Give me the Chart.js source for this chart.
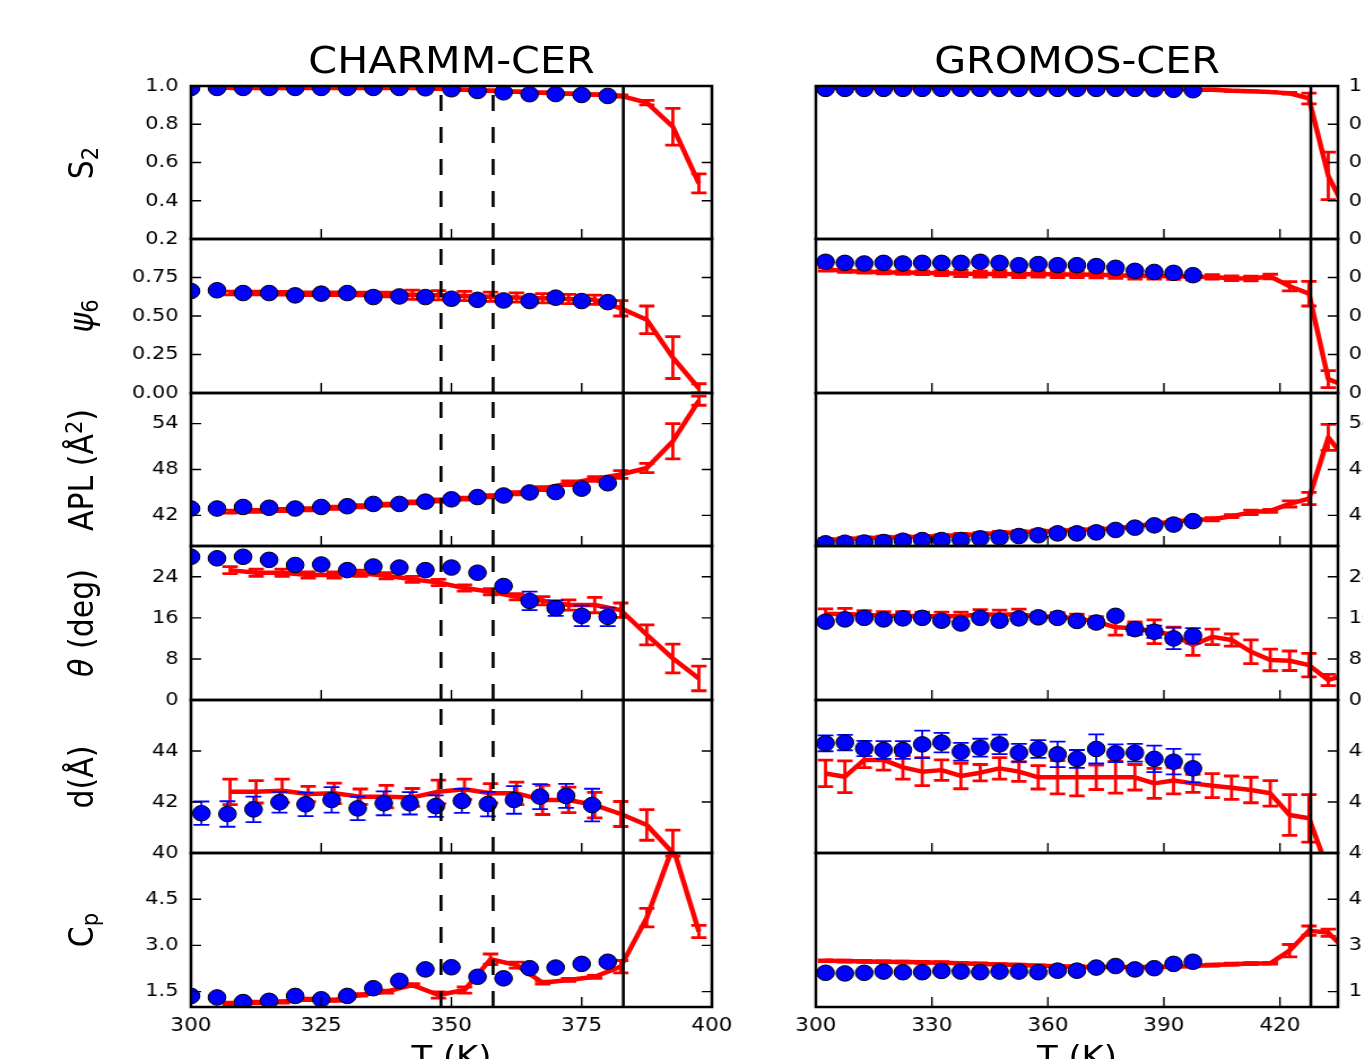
<!DOCTYPE html>
<html><head><meta charset="utf-8">
<script src="https://cdn.jsdelivr.net/npm/chart.js@4.4.1/dist/chart.umd.min.js"></script>
<style>
html,body{margin:0;padding:0;background:#fff;overflow:hidden;width:1363px;height:1059px;}
#fig{position:absolute;left:0;top:0;width:1207px;height:1059px;transform:scaleX(1.13);transform-origin:0 0;font-family:'DejaVu Sans';}
#fig canvas{position:absolute;}
.t{position:absolute;white-space:nowrap;line-height:1;color:#000;}
.sub{font-size:0.7em;position:relative;top:0.25em;}
.sup{font-size:0.7em;position:relative;top:-0.45em;}
</style></head>
<body><div id="fig"></div>
<script>
// ================= DATA =================
const charmmXTicks = [300, 325, 350, 375, 400];
const gromosXTicks = [300, 330, 360, 390, 420];
const charmmXRange = [300, 400];
const gromosXRange = [300, 435];
const charmmSolidLines = [383];
const charmmDashedLines = [348, 358];
const gromosSolidLines = [428];

const yMinByRow = [0.2, 0, 38, 0, 40, 1];
const yMaxByRow = [1.0, 1.0, 58, 30, 46, 6];
const yTicksS2 = [0.2, 0.4, 0.6, 0.8, 1.0];
const yLabelsS2 = ['0.2', '0.4', '0.6', '0.8', '1.0'];
const yTicksPsi = [0, 0.25, 0.5, 0.75];
const yLabelsPsi = ['0.00', '0.25', '0.50', '0.75'];
const yTicksAPL = [42, 48, 54];
const yLabelsAPL = ['42', '48', '54'];
const yTicksTheta = [0, 8, 16, 24];
const yLabelsTheta = ['0', '8', '16', '24'];
const yTicksD = [40, 42, 44];
const yLabelsD = ['40', '42', '44'];
const yTicksCp = [1.5, 3.0, 4.5];
const yLabelsCp = ['1.5', '3.0', '4.5'];

// temperatures (K)
const charmmT = [300,305,310,315,320,325,330,335,340,345,350,355,360,365,370,375,380];
const charmmT_d = [302,307,312,317,322,327,332,337,342,347,352,357,362,367,372,377];
const charmmRedT = [307.5,312.5,317.5,322.5,327.5,332.5,337.5,342.5,347.5,352.5,357.5,362.5,367.5,372.5,377.5,382.5,387.5,392.5,397.5];
const gromosT = [302.5,307.5,312.5,317.5,322.5,327.5,332.5,337.5,342.5,347.5,352.5,357.5,362.5,367.5,372.5,377.5,382.5,387.5,392.5,397.5];
const gromosRedT = [302.5,307.5,312.5,317.5,322.5,327.5,332.5,337.5,342.5,347.5,352.5,357.5,362.5,367.5,372.5,377.5,382.5,387.5,392.5,397.5,402.5,407.5,412.5,417.5,422.5,427.5,432.5,437.5];

// ---- CHARMM-CER ----
const charmmS2Blue = [0.99,0.99,0.99,0.99,0.99,0.99,0.99,0.99,0.99,0.988,0.983,0.974,0.967,0.957,0.958,0.953,0.948];
const charmmS2Red = [0.99,0.99,0.99,0.99,0.99,0.99,0.99,0.99,0.985,0.98,0.975,0.97,0.965,0.96,0.955,0.948,0.913,0.787,0.491];
const charmmS2RedErr = [0.004,0.004,0.004,0.004,0.004,0.004,0.004,0.004,0.004,0.004,0.004,0.004,0.004,0.004,0.004,0.006,0.012,0.096,0.05];

const charmmPsiBlue = [0.662,0.667,0.649,0.649,0.634,0.645,0.649,0.623,0.627,0.623,0.612,0.605,0.601,0.597,0.619,0.597,0.59];
const charmmPsiRed = [0.65,0.65,0.648,0.645,0.645,0.643,0.64,0.638,0.635,0.63,0.625,0.62,0.615,0.61,0.605,0.55,0.475,0.23,0.03];
const charmmPsiRedErr = [0.012,0.012,0.012,0.012,0.012,0.012,0.015,0.03,0.03,0.03,0.03,0.03,0.03,0.03,0.03,0.05,0.09,0.136,0.03];

const charmmAPLBlue = [42.9,42.9,43.1,43.0,42.9,43.1,43.2,43.5,43.5,43.8,44.1,44.4,44.6,45.0,45.05,45.5,46.2];
const charmmAPLRed = [42.5,42.6,42.7,42.8,43.0,43.2,43.4,43.7,43.95,44.2,44.5,44.9,45.5,46.2,46.75,47.35,48.2,51.7,57.0];
const charmmAPLRedErr = [0.2,0.2,0.2,0.2,0.2,0.2,0.2,0.2,0.2,0.2,0.2,0.2,0.25,0.3,0.3,0.5,0.6,2.3,0.6];

const charmmThetaBlue = [27.9,27.6,27.9,27.3,26.3,26.4,25.3,26.0,25.8,25.3,25.8,24.8,22.2,19.3,17.9,16.4,16.2];
const charmmThetaBlueErr = [0.3,0.3,0.3,0.3,0.3,0.3,0.3,0.3,0.3,0.3,0.3,0.3,0.5,1.8,1.5,2.0,1.8];
const charmmThetaRed = [25.3,24.8,24.8,24.35,24.35,24.7,24.2,23.5,22.9,21.8,21.1,20.1,19.35,18.5,18.5,17.5,12.7,8.1,4.2];
const charmmThetaRedErr = [0.7,0.7,0.7,0.6,0.6,0.6,0.6,0.6,0.6,0.6,0.6,0.6,0.8,1.0,1.5,1.4,1.95,2.8,2.4];

const charmmDBlue = [41.56,41.53,41.71,41.99,41.91,42.08,41.75,41.95,41.95,41.84,42.04,41.92,42.08,42.21,42.24,41.88];
const charmmDBlueErr = [0.46,0.5,0.5,0.41,0.46,0.5,0.46,0.47,0.44,0.42,0.47,0.48,0.54,0.49,0.47,0.64];
const charmmDRed = [42.4,42.4,42.44,42.31,42.34,42.21,42.21,42.18,42.4,42.5,42.34,42.34,42.08,42.08,41.88,41.53,41.1,40.0,38.5];
const charmmDRedErr = [0.5,0.44,0.46,0.3,0.4,0.3,0.44,0.35,0.46,0.4,0.38,0.44,0.57,0.5,0.5,0.49,0.6,0.9,0.6];

const charmmCpBlue = [1.36,1.31,1.16,1.2,1.36,1.25,1.36,1.61,1.85,2.22,2.29,1.98,1.93,2.26,2.28,2.40,2.47];
const charmmCpRed = [1.12,1.15,1.17,1.25,1.22,1.39,1.50,1.71,1.39,1.55,2.55,2.36,1.79,1.88,1.98,2.31,3.9,6.2,3.45];
const charmmCpRedErr = [0.04,0.04,0.04,0.04,0.04,0.04,0.05,0.05,0.1,0.1,0.17,0.1,0.05,0.05,0.05,0.2,0.3,0.3,0.2];

// ---- GROMOS-CER ----
const gromosS2Blue = [0.985,0.985,0.985,0.985,0.985,0.985,0.985,0.985,0.985,0.985,0.985,0.985,0.985,0.985,0.985,0.985,0.985,0.983,0.98,0.978];
const gromosS2Red = [0.99,0.99,0.99,0.99,0.99,0.99,0.99,0.99,0.99,0.99,0.99,0.99,0.99,0.99,0.99,0.99,0.985,0.985,0.985,0.98,0.98,0.975,0.972,0.968,0.962,0.935,0.53,0.33];
const gromosS2RedErr = [0.003,0.003,0.003,0.003,0.003,0.003,0.003,0.003,0.003,0.003,0.003,0.003,0.003,0.003,0.003,0.003,0.003,0.003,0.003,0.003,0.003,0.003,0.003,0.003,0.005,0.028,0.124,0.05];

const gromosPsiBlue = [0.852,0.845,0.841,0.845,0.841,0.845,0.845,0.845,0.852,0.845,0.830,0.837,0.830,0.830,0.824,0.813,0.793,0.786,0.780,0.765];
const gromosPsiRed = [0.802,0.793,0.788,0.784,0.783,0.781,0.778,0.776,0.772,0.774,0.77,0.772,0.77,0.77,0.768,0.765,0.76,0.76,0.758,0.755,0.754,0.745,0.744,0.756,0.693,0.645,0.09,0.04];
const gromosPsiRedErr = [0.01,0.01,0.01,0.01,0.012,0.012,0.015,0.02,0.02,0.02,0.02,0.02,0.02,0.02,0.02,0.02,0.02,0.02,0.02,0.02,0.015,0.015,0.015,0.015,0.03,0.08,0.055,0.03];

const gromosAPLBlue = [38.35,38.43,38.45,38.52,38.69,38.78,38.78,38.78,39.0,39.1,39.3,39.4,39.65,39.65,39.78,40.1,40.4,40.7,40.8,41.25];
const gromosAPLRed = [38.8,38.9,39.0,39.1,39.15,39.2,39.3,39.45,39.55,39.7,39.8,39.9,40.0,40.1,40.2,40.3,40.6,40.9,41.2,41.4,41.5,41.9,42.4,42.6,43.5,44.2,52.2,49.0];
const gromosAPLRedErr = [0.2,0.2,0.2,0.2,0.2,0.2,0.2,0.2,0.2,0.2,0.2,0.2,0.2,0.2,0.2,0.2,0.2,0.2,0.2,0.2,0.2,0.2,0.3,0.2,0.4,0.8,1.7,0.5];

const gromosThetaBlue = [15.26,15.7,16.0,15.7,15.9,16.0,15.45,14.9,16.0,15.45,15.9,16.1,16.0,15.4,15.1,16.4,13.8,13.3,12.0,12.5];
const gromosThetaBlueErr = [0.5,0.5,0.5,0.5,0.5,0.5,0.5,0.5,0.5,0.5,0.5,0.5,0.5,0.5,0.5,0.5,1.0,1.2,2.1,1.5];
const gromosThetaRed = [16.75,16.75,16.6,16.4,16.4,16.3,16.3,16.3,16.7,16.6,16.7,16.2,16.2,15.9,15.25,14.15,14.0,13.3,12.7,10.7,12.3,11.7,9.4,7.8,7.65,6.8,3.9,5.0];
const gromosThetaRedErr = [1.0,1.1,0.8,0.8,0.8,0.8,0.8,0.8,0.9,0.9,1.0,0.8,0.8,0.8,1.0,1.5,1.2,2.3,1.5,2.0,1.5,1.2,2.3,2.1,1.9,2.3,1.1,0.8];

const gromosDBlue = [44.3,44.33,44.1,44.04,44.04,44.26,44.33,43.97,44.13,44.26,43.93,44.08,43.87,43.69,44.08,43.91,43.93,43.69,43.58,43.32];
const gromosDBlueErr = [0.31,0.3,0.3,0.35,0.35,0.54,0.38,0.35,0.35,0.38,0.35,0.35,0.5,0.35,0.57,0.35,0.35,0.52,0.5,0.55];
const gromosDRed = [43.12,42.99,43.65,43.65,43.36,43.19,43.25,43.02,43.15,43.32,43.19,42.97,42.97,42.97,42.97,42.97,42.97,42.73,42.84,42.73,42.64,42.56,42.47,42.34,41.49,41.36,39.3,39.0];
const gromosDRedErr = [0.52,0.62,0.3,0.4,0.46,0.55,0.4,0.5,0.32,0.42,0.38,0.46,0.65,0.73,0.48,0.62,0.5,0.59,0.52,0.35,0.47,0.46,0.5,0.5,0.8,0.93,0.5,0.5];

const gromosCpBlue = [2.11,2.09,2.11,2.15,2.13,2.13,2.17,2.15,2.13,2.15,2.15,2.13,2.18,2.18,2.28,2.33,2.22,2.26,2.40,2.47];
const gromosCpRed = [2.50,2.49,2.48,2.47,2.46,2.45,2.44,2.42,2.40,2.38,2.36,2.34,2.32,2.31,2.30,2.30,2.30,2.30,2.31,2.33,2.36,2.39,2.41,2.42,2.83,3.48,3.41,2.8];
const gromosCpRedErr = [0.03,0.03,0.03,0.03,0.03,0.03,0.03,0.03,0.03,0.03,0.03,0.03,0.03,0.03,0.03,0.03,0.03,0.03,0.03,0.03,0.03,0.03,0.03,0.03,0.2,0.15,0.12,0.1];

const columnTitles = ['CHARMM-CER', 'GROMOS-CER'];
const xAxisTitle = 'T (K)';
const rowTitlesHTML = [
  'S<span class="sub">2</span>',
  '<i>ψ</i><span class="sub">6</span>',
  'APL (Å<span class="sup">2</span>)',
  '<i>θ</i> (deg)',
  'd(Å)',
  'C<span class="sub">p</span>'
];

// ================= LAYOUT =================
const S = 1.13;                       // horizontal stretch of the figure
const rowEdges = [86, 239, 393, 546, 700, 853, 1007];
const colGeom = [{l: 191, r: 712}, {l: 816, r: 1338}];
const fig = document.getElementById('fig');

const yTickSets = [
  [yTicksS2, yLabelsS2], [yTicksPsi, yLabelsPsi], [yTicksAPL, yLabelsAPL],
  [yTicksTheta, yLabelsTheta], [yTicksD, yLabelsD], [yTicksCp, yLabelsCp]
];

const columns = [
  {
    xTicks: charmmXTicks, xRange: charmmXRange, solid: charmmSolidLines, dashed: charmmDashedLines,
    rows: [
      {bx: charmmT, by: charmmS2Blue, be: null, rx: charmmRedT, ry: charmmS2Red, re: charmmS2RedErr},
      {bx: charmmT, by: charmmPsiBlue, be: null, rx: charmmRedT, ry: charmmPsiRed, re: charmmPsiRedErr},
      {bx: charmmT, by: charmmAPLBlue, be: null, rx: charmmRedT, ry: charmmAPLRed, re: charmmAPLRedErr},
      {bx: charmmT, by: charmmThetaBlue, be: charmmThetaBlueErr, rx: charmmRedT, ry: charmmThetaRed, re: charmmThetaRedErr},
      {bx: charmmT_d, by: charmmDBlue, be: charmmDBlueErr, rx: charmmRedT, ry: charmmDRed, re: charmmDRedErr},
      {bx: charmmT, by: charmmCpBlue, be: null, rx: charmmRedT, ry: charmmCpRed, re: charmmCpRedErr}
    ]
  },
  {
    xTicks: gromosXTicks, xRange: gromosXRange, solid: gromosSolidLines, dashed: [],
    rows: [
      {bx: gromosT, by: gromosS2Blue, be: null, rx: gromosRedT, ry: gromosS2Red, re: gromosS2RedErr},
      {bx: gromosT, by: gromosPsiBlue, be: null, rx: gromosRedT, ry: gromosPsiRed, re: gromosPsiRedErr},
      {bx: gromosT, by: gromosAPLBlue, be: null, rx: gromosRedT, ry: gromosAPLRed, re: gromosAPLRedErr},
      {bx: gromosT, by: gromosThetaBlue, be: gromosThetaBlueErr, rx: gromosRedT, ry: gromosThetaRed, re: gromosThetaRedErr},
      {bx: gromosT, by: gromosDBlue, be: gromosDBlueErr, rx: gromosRedT, ry: gromosDRed, re: gromosDRedErr},
      {bx: gromosT, by: gromosCpBlue, be: null, rx: gromosRedT, ry: gromosCpRed, re: gromosCpRedErr}
    ]
  }
];

function zip(xs, ys) { return xs.map((x, i) => ({x: x, y: ys[i]})); }

function makePanel(col, row) {
  const C = columns[col], D = C.rows[row];
  const isLeft = col === 0, isBottom = row === 5;
  const L = colGeom[col].l / S, R = colGeom[col].r / S;
  const plotW = R - L;
  const AX = 62, PAD = 14, SIDE = 32, XAX = 52;
  const top = rowEdges[row], bot = rowEdges[row + 1];
  const plotH = bot - top;
  const cw = Math.round(plotW + AX + SIDE);
  const ch = plotH + PAD + (isBottom ? XAX : PAD);
  const cl = isLeft ? (R + SIDE - cw) : (L - SIDE);
  const c = document.createElement('canvas');
  c.width = cw; c.height = ch;
  c.style.left = cl + 'px'; c.style.top = (top - PAD) + 'px';
  c.style.width = cw + 'px'; c.style.height = ch + 'px';
  fig.appendChild(c);
  const [yt, yl] = yTickSets[row];

  const panelPlugin = {
    id: 'panelDeco',
    beforeDatasetDraw(chart, args) {
      const ds = chart.data.datasets[args.index];
      if (!ds.errors) return;
      const {ctx, chartArea: a} = chart;
      const xs = chart.scales.x, ys = chart.scales.y;
      ctx.save();
      ctx.beginPath(); ctx.rect(a.left, a.top, a.right - a.left, a.bottom - a.top); ctx.clip();
      ctx.strokeStyle = ds.errColor; ctx.lineWidth = ds.errWidth; ctx.lineCap = 'butt';
      ds.data.forEach((p, i) => {
        const e = ds.errors[i];
        if (e == null) return;
        const px = xs.getPixelForValue(p.x);
        const y1 = ys.getPixelForValue(p.y - e), y2 = ys.getPixelForValue(p.y + e);
        const h = ds.capHalf;
        ctx.beginPath();
        ctx.moveTo(px, y1); ctx.lineTo(px, y2);
        ctx.moveTo(px - h, y1); ctx.lineTo(px + h, y1);
        ctx.moveTo(px - h, y2); ctx.lineTo(px + h, y2);
        ctx.stroke();
      });
      ctx.restore();
    },
    afterDatasetsDraw(chart) {
      const {ctx, chartArea: a} = chart;
      const xs = chart.scales.x, ys = chart.scales.y;
      ctx.save();
      ctx.beginPath(); ctx.rect(a.left, a.top, a.right - a.left, a.bottom - a.top); ctx.clip();
      ctx.strokeStyle = '#000';
      ctx.lineWidth = 2.6;
      C.dashed.forEach(v => {
        const px = xs.getPixelForValue(v);
        ctx.setLineDash([16, 16]);
        ctx.beginPath(); ctx.moveTo(px, a.bottom); ctx.lineTo(px, a.top); ctx.stroke();
      });
      ctx.setLineDash([]);
      C.solid.forEach(v => {
        const px = xs.getPixelForValue(v);
        ctx.beginPath(); ctx.moveTo(px, a.bottom); ctx.lineTo(px, a.top); ctx.stroke();
      });
      ctx.restore();
      ctx.save();
      ctx.strokeStyle = '#000'; ctx.lineWidth = 1.4;
      ctx.beginPath();
      xs.ticks.forEach(t => {
        const px = xs.getPixelForValue(t.value);
        ctx.moveTo(px, a.bottom); ctx.lineTo(px, a.bottom - 10);
      });
      ys.ticks.forEach(t => {
        const py = ys.getPixelForValue(t.value);
        if (isLeft) { ctx.moveTo(a.left, py); ctx.lineTo(a.left + 9, py); }
        ctx.moveTo(a.right, py); ctx.lineTo(a.right - 9, py);
      });
      ctx.stroke();
      ctx.lineWidth = 2.5;
      ctx.strokeRect(a.left, a.top, a.right - a.left, a.bottom - a.top);
      ctx.restore();
    }
  };

  new Chart(c, {
    type: 'line',
    data: {
      datasets: [
        {
          label: 'blue', data: zip(D.bx, D.by), showLine: false, order: 0, clip: 0,
          pointRadius: 7.8, pointHoverRadius: 7.8, pointBackgroundColor: '#0000ff',
          pointBorderColor: '#000000', pointBorderWidth: 1,
          errors: D.be, errColor: '#0000ff', errWidth: 1.8, capHalf: 7
        },
        {
          label: 'red', data: zip(D.rx, D.ry), order: 1, clip: 0,
          borderColor: '#ff0000', borderWidth: 4.5, pointRadius: 0, pointHoverRadius: 0,
          borderJoinStyle: 'round', tension: 0, fill: false,
          errors: D.re, errColor: '#ff0000', errWidth: 2.8, capHalf: 6.8
        }
      ]
    },
    options: {
      responsive: false, animation: false, events: [],
      layout: {padding: {left: isLeft ? 0 : SIDE, right: isLeft ? SIDE : 0, top: PAD, bottom: isBottom ? 0 : PAD}},
      plugins: {legend: {display: false}, tooltip: {enabled: false}},
      scales: {
        x: {
          type: 'linear', position: 'bottom', min: C.xRange[0], max: C.xRange[1],
          grid: {display: false, drawTicks: false, tickLength: 0}, border: {display: false},
          ticks: {display: isBottom, autoSkip: false, maxRotation: 0, minRotation: 0, padding: 8,
                  color: '#000', font: {family: 'DejaVu Sans', size: 19},
                  callback: v => String(v)},
          afterBuildTicks: s => { s.ticks = C.xTicks.map(v => ({value: v})); },
          afterFit: s => { s.height = isBottom ? XAX : 0; s.paddingLeft = 0; s.paddingRight = 0; }
        },
        y: {
          type: 'linear', position: isLeft ? 'left' : 'right', min: yMinByRow[row], max: yMaxByRow[row],
          grid: {display: false, drawTicks: false, tickLength: 0}, border: {display: false},
          ticks: {display: true, autoSkip: false, padding: isLeft ? 11 : 9.5,
                  color: '#000', font: {family: 'DejaVu Sans', size: 18.5},
                  callback: v => { const k = yt.indexOf(v); return k >= 0 ? yl[k] : ''; }},
          afterBuildTicks: s => { s.ticks = yt.map(v => ({value: v})); },
          afterFit: s => { s.width = AX; s.paddingTop = 0; s.paddingBottom = 0; }
        }
      }
    },
    plugins: [panelPlugin]
  });
}

function addText(html, cx, baseline, size) {
  const d = document.createElement('div');
  d.className = 't';
  d.innerHTML = html;
  d.style.fontSize = size + 'px';
  d.style.left = cx + 'px';
  d.style.top = (baseline - 0.846 * size) + 'px';
  d.style.transform = 'translateX(-50%)';
  fig.appendChild(d);
}
function addRotText(html, cx, cy, size) {
  const d = document.createElement('div');
  d.className = 't';
  d.innerHTML = html;
  d.style.fontSize = size + 'px';
  d.style.left = cx + 'px';
  d.style.top = cy + 'px';
  d.style.transform = 'translate(-50%,-50%) rotate(-90deg)';
  fig.appendChild(d);
}

for (let col = 0; col < 2; col++) {
  for (let row = 0; row < 6; row++) makePanel(col, row);
  const cx = (colGeom[col].l + colGeom[col].r) / 2 / S;
  addText(columnTitles[col], cx, 74, 36.5);
  addText(xAxisTitle, cx, 1067, 30);
}
for (let row = 0; row < 6; row++) {
  const cy = (rowEdges[row] + rowEdges[row + 1]) / 2;
  addRotText(rowTitlesHTML[row], 93 / S - 0.346 * 30, cy, 30);
}
</script>
</body></html>
